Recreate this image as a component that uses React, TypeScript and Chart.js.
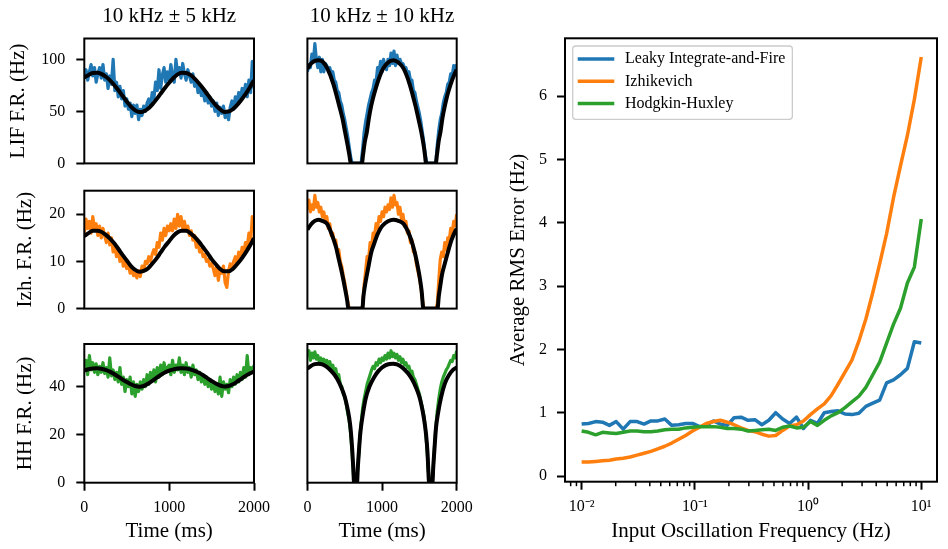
import React, { useEffect, useRef } from 'react';
import { Chart, registerables } from 'chart.js';

Chart.register(...registerables);

const FONT = '"Liberation Serif", "Times New Roman", serif';
Chart.defaults.font.family = FONT;
Chart.defaults.color = '#000';

// ---------------- data: time-course panels ----------------
const TIME_NOISY = [0,20,40,60,80,100,120,140,160,180,200,220,240,260,280,300,320,340,360,380,400,420,440,460,480,500,520,540,560,580,600,620,640,660,680,700,720,740,760,780,800,820,840,860,880,900,920,940,960,980,1000,1020,1040,1060,1080,1100,1120,1140,1160,1180,1200,1220,1240,1260,1280,1300,1320,1340,1360,1380,1400,1420,1440,1460,1480,1500,1520,1540,1560,1580,1600,1620,1640,1660,1680,1700,1720,1740,1760,1780,1800,1820,1840,1860,1880,1900,1920,1940,1960,1980,2000];
const TIME_FIT_A = [0,50,100,150,200,250,300,350,400,450,500,550,600,650,700,750,800,850,900,950,1000,1050,1100,1150,1200,1250,1300,1350,1400,1450,1500,1550,1600,1650,1700,1750,1800,1850,1900,1950,2000];

const LIF_NOISY_A = [82,90,80,88,95,84,92,78,86,92, 82,95,80,86,72,84,76,100,70,78, 64,74,62,70,55,62,52,58,45,56, 48,56,42,52,46,55,50,58,62,55, 68,62,78,70,90,72,85,92,78,88, 80,95,84,78,100,86,92,82,96,86, 80,90,84,78,86,74,80,68,76,65, 70,60,68,58,64,55,60,50,58,46, 54,48,55,44,50,42,54,60,52,64, 58,68,62,72,66,76,64,80,68,98, 72];
const LIF_FIT_A = [82.5,85,86.8,87,86,83.5,80,75.5,70.5,65, 59.5,54.5,51,49.3,50,52.5,56.5,61.5,67,72.5, 77.5,82,85.5,87,86.8,85,81.5,77,72,66.5, 61,56,52,49.5,49.8,52,56,61,66.5,73, 80];

const LIF_NOISY_B = [88,95,92,105,98,115,100,92,102,88, 100,88,96,94,90,92,86,88,80,78, 70,68,60,56,48,42,34,26,16,6, 0,0,0,0,0,0,0,14,30,40, 48,56,62,68,72,80,78,92,88,98, 88,100,94,90,100,94,106,96,108,94, 104,96,100,96,96,92,92,86,88,80, 80,70,68,60,54,48,40,30,20,8, 0,0,0,0,0,0,0,18,32,42, 48,58,64,68,76,78,86,84,94,90, 95];
const TIME_FIT_LIF_B = [0,50,100,150,200,268,347,426,470,505, 540,565,580,650,730,745,770,796,825,855, 895,934,975,1013,1080,1150,1220,1289,1368,1447, 1490,1526,1560,1575,1590,1650,1720,1735,1760,1782, 1810,1842,1880,1921,1960,2000];
const LIF_FIT_B = [91,96,98.5,99,98,91,76.5,55.5,43,30, 17,7,0,0,0,8,21,30,44,55.5, 67,76.5,85,91,97,99,97,91,76.5,55.5, 42,30,16,8,0,0,0,8,22,30, 44,55.5,67,76.5,84,90];

const IZH_NOISY_A = [16,19,17,18.5,16,19.5,17,18,15.5,17.5, 15,17,15.5,14,16,13.5,15,12,13.5,11, 12.5,10,11.5,9,10,8.5,9.5,7.5,8.5,7, 7.5,6.5,8,6.8,9,8,10,9.5,11,10, 11.5,12.5,11.5,14,13,16,14.5,17,15.5,17.5, 16.5,18,16.5,19,17,20,17.5,19.5,17,18.5, 16.5,17.5,15.5,16.5,14.5,15.5,13,14,12,12.5, 11,11.5,10,10.5,9,9.5,8.5,7,9,6, 8.5,7.5,9,5.5,4.5,8,9.5,8.5,10,11, 9.5,12,10.5,13,12,14,13,16,14,19.5, 16.5];
const IZH_FIT_A = [15.4,16.0,16.5,16.5,16.3,15.7,14.9,13.9,12.7,11.4, 10.2,9.0,8.2,7.8,8.0,8.5,9.5,10.6,11.9,13.2, 14.3,15.4,16.2,16.5,16.5,16.0,15.2,14.2,13.0,11.8, 10.5,9.4,8.4,7.9,7.9,8.4,9.4,10.5,11.8,13.3, 14.9];

const IZH_NOISY_B = [21,23,20.5,22,21,24,21.5,22.5,20.5,21.5, 19.5,20.5,18.5,19.5,17,18,15.5,16,14,14.5, 12,12.5,10,9,7,5.5,3.5,1.5,0,0, 0,0,0,0,0,0,0,0.5,5,8, 11,10.5,14,13,16,15.5,18,17,19.5,18.5, 20.5,19.5,21.5,20.5,22,21,23.5,21.5,24,22, 22.5,20,21.5,19,20,17.5,18.5,16,16.5,14, 14.5,12,12,9.5,8,6.5,4.5,2,0,0, 0,0,0,0,0,0,0,1,6,10.5, 12,11,14,12.5,15,14.5,17,16,18.5,17.5, 20];
const TIME_FIT_IZH_B = [0,50,100,145,200,264,320,382,420,461, 500,520,535,548,650,737,750,770,796,825, 855,895,934,975,1013,1080,1151,1220,1289,1330, 1368,1410,1447,1480,1506,1530,1554,1650,1743,1760, 1780,1802,1840,1881,1930,1980,2000];
const IZH_FIT_B = [16.75,17.9,18.6,18.86,18.6,17.96,16,13.1,10.5,7.7, 4.6,2.9,1.5,0,0,0,2.5,4.8,7.1,9.5, 11.9,13.8,15.55,16.9,17.7,18.5,18.86,18.6,17.96,16.9, 15.55,13.6,11.3,8.8,6.5,3.8,0,0,0,2.6, 4.8,7.1,9.5,11.9,14.5,16.4,16.9];

const HH_NOISY_A = [48,51,45,53,47,50,46,49.5,45,48.5, 46,50,45.5,48,44,52,44.5,47,43,46, 42,48,41,44,38,43,40,44,37,42, 36,41,38,42,39,43,40,45,41,46, 43,47,42,48,44,49,45,50,46,48, 49,45,51,46,49,47,52,46,49,45, 50,46,48,44,49,45,47,43,46,42, 45,41,44,40,43,39,42,38,41,37, 44,36,42,39,41,37.5,43,40,44,41, 45,42,46,43,48,44,53,45,48,46, 49];
const HH_FIT_A = [46.8,47.3,47.6,47.7,47.5,47.0,46.3,45.3,44.2,43.0, 42.0,41.0,40.3,40.0,40.3,41.2,42.4,43.7,44.9,45.9, 46.7,47.2,47.6,47.7,47.6,47.2,46.6,45.8,44.8,43.6, 42.4,41.3,40.5,40.1,40.3,41.0,42.1,43.3,44.5,45.5, 46.3];

const HH_NOISY_B = [53,55,51,54,52,54.5,51.5,53,50.5,52, 50,51.5,49,51,48.5,50.5,47.5,49,46,47.5, 44,45,41,40,37,36,33,29,26,20, 12,2,0,0,8,18,25,31,35,38, 41,43,45,47,48.5,47.5,50,49,51.5,50, 52,51,53,51.5,54,52,55,52.5,54,52, 53.5,51,52.5,50,51.5,49,50,48,48.5,46, 46.5,44,43,41,39,37,34,31,28,23, 15,5,0,0,3,14,23,30,35,39, 42,44,45.5,47,48,49.5,51,50.5,53,52, 55];
const TIME_FIT_HH_B = [0,50,100,150,200,250,300,350,400,450, 500,530,560,580,600,615,625,665,675,690, 710,740,780,830,900,950,1000,1050,1100,1150, 1200,1250,1300,1350,1400,1450,1500,1530,1560,1590, 1610,1620,1630,1675,1685,1700,1723,1750,1790,1842, 1900,1950,2000];
const HH_FIT_B = [47.5,48.7,49.4,49.6,49.3,48.5,47.2,45.5,43.2,40.0, 35.8,32,27,22,14,6,0,0,6,13, 21,28,35,40,44.3,46.5,48,49,49.5,49.6, 49.3,48.5,47.2,45.5,43.2,40,35.8,32,27,20, 12,5,0,0,6,13,23,29,35.5,41.4, 45,47,48];

const COLUMN_TITLES = ['10 kHz \u00b1 5 kHz', '10 kHz \u00b1 10 kHz'];
const ROW_LABELS = ['LIF F.R. (Hz)', 'Izh. F.R. (Hz)', 'HH F.R. (Hz)'];
const ROW_Y_MAX = [120, 25, 57.8];
const ROW_Y_TICKS = [[0, 50, 100], [0, 10, 20], [0, 20, 40]];
const TIME_TICKS = [0, 1000, 2000];
const TIME_LABEL = 'Time (ms)';

// ---------------- data: RMS error panel ----------------
const FREQ = [0.0100,0.0115,0.0133,0.0153,0.0176,0.0202,0.0233,0.0268,0.0309,0.0356, 0.0409,0.0471,0.0543,0.0625,0.0720,0.0829,0.0954,0.110,0.126,0.146, 0.168,0.193,0.222,0.256,0.295,0.339,0.391,0.450,0.518,0.596, 0.687,0.791,0.910,1.05,1.21,1.39,1.60,1.84,2.12,2.44, 2.81,3.24,3.73,4.29,4.94,5.69,6.55,7.54,8.69,10.0];
const RMS_LIF = [0.82,0.83,0.86,0.85,0.80,0.86,0.74,0.86,0.86,0.82, 0.87,0.87,0.90,0.80,0.81,0.83,0.83,0.78,0.80,0.87, 0.82,0.80,0.92,0.93,0.88,0.89,0.81,0.88,1.00,0.90, 0.83,0.93,0.75,0.88,0.83,1.00,1.02,1.03,0.98,0.97, 0.99,1.10,1.15,1.20,1.47,1.52,1.60,1.70,2.12,2.10];
const RMS_IZH = [0.22,0.22,0.23,0.24,0.25,0.27,0.28,0.30,0.33,0.36, 0.39,0.43,0.47,0.52,0.58,0.64,0.71,0.77,0.83,0.86, 0.88,0.85,0.81,0.76,0.72,0.70,0.66,0.63,0.64,0.72, 0.79,0.81,0.87,0.97,1.06,1.14,1.27,1.45,1.64,1.83, 2.13,2.48,2.90,3.35,3.83,4.40,4.90,5.38,5.95,6.62];
const RMS_HH = [0.71,0.69,0.65,0.69,0.68,0.67,0.69,0.71,0.71,0.70, 0.70,0.71,0.73,0.74,0.74,0.76,0.77,0.78,0.78,0.78, 0.77,0.75,0.75,0.74,0.71,0.72,0.73,0.74,0.72,0.77, 0.79,0.76,0.77,0.86,0.80,0.88,0.95,1.00,1.08,1.17, 1.26,1.40,1.60,1.80,2.10,2.40,2.65,3.05,3.30,4.06];
const MODEL_NAMES = ['Leaky Integrate-and-Fire', 'Izhikevich', 'Hodgkin-Huxley'];
const RMS_X_TICKS = [0.01, 0.1, 1, 10];
const RMS_X_TICK_LABELS = ['10\u207b\u00b2', '10\u207b\u00b9', '10\u2070', '10\u00b9'];
const RMS_X_MINOR = [0.008,0.009,0.02,0.03,0.04,0.05,0.06,0.07,0.08,0.09,0.2,0.3,0.4,0.5,0.6,0.7,0.8,0.9,2,3,4,5,6,7,8,9];
const RMS_Y_TICKS = [0, 1, 2, 3, 4, 5, 6];
const RMS_X_LABEL = 'Input Oscillation Frequency (Hz)';
const RMS_Y_LABEL = 'Average RMS Error (Hz)';

const COLORS = ['#1f77b4', '#ff7f0e', '#2ca02c'];

const PANELS = [
  [
    { noisy: LIF_NOISY_A, fitT: TIME_FIT_A, fit: LIF_FIT_A },
    { noisy: LIF_NOISY_B, fitT: TIME_FIT_LIF_B, fit: LIF_FIT_B },
  ],
  [
    { noisy: IZH_NOISY_A, fitT: TIME_FIT_A, fit: IZH_FIT_A },
    { noisy: IZH_NOISY_B, fitT: TIME_FIT_IZH_B, fit: IZH_FIT_B },
  ],
  [
    { noisy: HH_NOISY_A, fitT: TIME_FIT_A, fit: HH_FIT_A },
    { noisy: HH_NOISY_B, fitT: TIME_FIT_HH_B, fit: HH_FIT_B },
  ],
];

// ---------------- layout (page pixels) ----------------
const COL_CANVAS = [{ left: 0, width: 275 }, { left: 268, width: 207 }];
const COL_AREA = [[84.3, 254], [287.7, 456.7]];
const ROW_CANVAS = [{ top: 0, height: 190 }, { top: 170, height: 180 }, { top: 324, height: 225 }];
const ROW_AREA = [[38.5, 176.7], [190.7, 329.3], [344, 482.7]];
const ROW_TITLE_PAD = [6, 13, 13];
const RMS_CANVAS = { left: 480, top: 0, width: 468, height: 549 };
const RMS_AREA = { left: 565, right: 937, top: 38.3, bottom: 481.7 };

const pts = (xs: number[], ys: number[]) => xs.map((x, i) => ({ x, y: ys[i] }));
const fixTicks = (values: number[]) => (scale: any) => {
  scale.ticks = values.map((v) => ({ value: v }));
};

const tickGrid = {
  display: true,
  drawOnChartArea: false,
  drawTicks: true,
  tickLength: 8,
  tickWidth: 2,
  tickColor: '#000',
  color: '#000',
};

const framePlugin = {
  id: 'axesFrame',
  afterDatasetsDraw(chart: any) {
    const { ctx, chartArea: a } = chart;
    ctx.save();
    ctx.strokeStyle = '#000';
    ctx.lineWidth = 2;
    ctx.strokeRect(a.left, a.top, a.right - a.left, a.bottom - a.top);
    ctx.restore();
  },
};

const minorTickPlugin = {
  id: 'minorTicks',
  afterDraw(chart: any) {
    const sx = chart.scales.x;
    const { ctx, chartArea: a } = chart;
    ctx.save();
    ctx.strokeStyle = '#000';
    ctx.lineWidth = 1.5;
    RMS_X_MINOR.forEach((v) => {
      const x = sx.getPixelForValue(v);
      ctx.beginPath();
      ctx.moveTo(x, a.bottom);
      ctx.lineTo(x, a.bottom + 4.5);
      ctx.stroke();
    });
    ctx.restore();
  },
};

const boxLegendPlugin = {
  id: 'boxLegend',
  afterDatasetsDraw(chart: any) {
    const { ctx, chartArea: a } = chart;
    ctx.save();
    ctx.font = `16px ${FONT}`;
    const ds = chart.data.datasets;
    const textW = Math.max(...ds.map((d: any) => ctx.measureText(d.label).width));
    const x0 = a.left + 7.7;
    const y0 = a.top + 7.7;
    const w = 5 + 36.6 + 10.7 + textW + 7;
    const h = 73.3;
    ctx.beginPath();
    ctx.roundRect(x0, y0, w, h, 3);
    ctx.fillStyle = 'rgba(255,255,255,0.8)';
    ctx.fill();
    ctx.strokeStyle = '#cccccc';
    ctx.lineWidth = 1.3;
    ctx.stroke();
    ds.forEach((d: any, k: number) => {
      const y = y0 + 13 + k * 22.3;
      ctx.strokeStyle = d.borderColor;
      ctx.lineWidth = 3.5;
      ctx.beginPath();
      ctx.moveTo(x0 + 5, y);
      ctx.lineTo(x0 + 41.6, y);
      ctx.stroke();
      ctx.fillStyle = '#000';
      ctx.textBaseline = 'middle';
      ctx.textAlign = 'left';
      ctx.fillText(d.label, x0 + 52.3, y);
    });
    ctx.restore();
  },
};

function SmallPanel({ row, col }: { row: number; col: number }) {
  const ref = useRef<HTMLCanvasElement>(null);
  const cc = COL_CANVAS[col];
  const rc = ROW_CANVAS[row];
  useEffect(() => {
    const cv = ref.current;
    if (!cv) return;
    const series = PANELS[row][col];
    const isLeft = col === 0;
    const isTop = row === 0;
    const isBottom = row === 2;
    const area = { left: COL_AREA[col][0], right: COL_AREA[col][1], top: ROW_AREA[row][0], bottom: ROW_AREA[row][1] };
    const padding = {
      left: isLeft ? 0 : area.left - cc.left,
      right: cc.left + cc.width - area.right,
      top: isTop ? 0 : area.top - rc.top,
      bottom: isBottom ? 0 : rc.top + rc.height - area.bottom,
    };
    const chart = new Chart(cv, {
      type: 'line',
      data: {
        datasets: [
          {
            data: pts(TIME_NOISY, series.noisy),
            borderColor: COLORS[row],
            borderWidth: 3.2,
            pointRadius: 0,
            tension: 0,
            borderJoinStyle: 'round',
            order: 2,
          },
          {
            data: pts(series.fitT, series.fit),
            borderColor: '#000',
            borderWidth: 4,
            pointRadius: 0,
            cubicInterpolationMode: 'monotone',
            order: 1,
          },
        ],
      },
      options: {
        responsive: false,
        animation: false,
        events: [],
        layout: { padding },
        plugins: {
          legend: { display: false },
          tooltip: { enabled: false },
          title: {
            display: isTop,
            text: COLUMN_TITLES[col],
            fullSize: false,
            color: '#000',
            font: { family: FONT, size: 21, weight: 'normal', lineHeight: 1.2 },
            padding: { top: 3.5, bottom: 9.8 },
          },
        },
        scales: {
          x: {
            type: 'linear',
            min: 0,
            max: 2000,
            display: isBottom,
            afterBuildTicks: fixTicks(TIME_TICKS),
            afterFit: (s: any) => {
              s.height = rc.top + rc.height - area.bottom;
              s.paddingLeft = 0;
              s.paddingRight = 0;
            },
            ticks: {
              callback: (v: any) => String(v),
              font: { family: FONT, size: 16 },
              color: '#000',
              padding: 7,
              maxRotation: 0,
              autoSkip: false,
            },
            grid: tickGrid,
            border: { display: false },
            title: {
              display: true,
              text: TIME_LABEL,
              color: '#000',
              font: { family: FONT, size: 21, lineHeight: 1.2 },
              padding: { top: 0, bottom: 4.6 },
            },
          },
          y: {
            type: 'linear',
            min: 0,
            max: ROW_Y_MAX[row],
            display: isLeft,
            afterBuildTicks: fixTicks(ROW_Y_TICKS[row]),
            afterFit: (s: any) => {
              s.width = area.left - cc.left;
              s.paddingTop = 0;
              s.paddingBottom = 0;
            },
            ticks: {
              callback: (v: any) => String(v),
              font: { family: FONT, size: 16 },
              color: '#000',
              padding: 11,
              autoSkip: false,
            },
            grid: tickGrid,
            border: { display: false },
            title: {
              display: true,
              text: ROW_LABELS[row],
              color: '#000',
              font: { family: FONT, size: 21, lineHeight: 1.2 },
              padding: { top: ROW_TITLE_PAD[row], bottom: 0 },
            },
          },
        },
      } as any,
      plugins: [framePlugin],
    });
    return () => chart.destroy();
  }, [row, col]);
  return (
    <canvas
      ref={ref}
      width={cc.width}
      height={rc.height}
      style={{ position: 'absolute', left: cc.left, top: rc.top, width: cc.width, height: rc.height }}
    />
  );
}

function RmsPanel() {
  const ref = useRef<HTMLCanvasElement>(null);
  useEffect(() => {
    const cv = ref.current;
    if (!cv) return;
    const series = [RMS_LIF, RMS_IZH, RMS_HH];
    const chart = new Chart(cv, {
      type: 'line',
      data: {
        datasets: MODEL_NAMES.map((name, k) => ({
          label: name,
          data: pts(FREQ, series[k]),
          borderColor: COLORS[k],
          borderWidth: 3.5,
          pointRadius: 0,
          tension: 0,
          borderJoinStyle: 'round',
          order: MODEL_NAMES.length - k,
        })),
      },
      options: {
        responsive: false,
        animation: false,
        events: [],
        layout: {
          padding: {
            left: 0,
            right: RMS_CANVAS.left + RMS_CANVAS.width - RMS_AREA.right,
            top: RMS_AREA.top - RMS_CANVAS.top,
            bottom: 0,
          },
        },
        plugins: { legend: { display: false }, tooltip: { enabled: false } },
        scales: {
          x: {
            type: 'logarithmic',
            min: 0.00713,
            max: 13.77,
            afterBuildTicks: fixTicks(RMS_X_TICKS),
            afterFit: (s: any) => {
              s.height = RMS_CANVAS.top + RMS_CANVAS.height - RMS_AREA.bottom;
              s.paddingLeft = 0;
              s.paddingRight = 0;
            },
            ticks: {
              callback: (_v: any, i: number) => RMS_X_TICK_LABELS[i],
              font: { family: FONT, size: 16 },
              color: '#000',
              padding: 7,
              maxRotation: 0,
              autoSkip: false,
            },
            grid: tickGrid,
            border: { display: false },
            title: {
              display: true,
              text: RMS_X_LABEL,
              color: '#000',
              font: { family: FONT, size: 21, lineHeight: 1.2 },
              padding: { top: 0, bottom: 4.6 },
            },
          },
          y: {
            type: 'linear',
            min: -0.09,
            max: 6.915,
            afterBuildTicks: fixTicks(RMS_Y_TICKS),
            afterFit: (s: any) => {
              s.width = RMS_AREA.left - RMS_CANVAS.left;
              s.paddingTop = 0;
              s.paddingBottom = 0;
            },
            ticks: {
              callback: (v: any) => String(v),
              font: { family: FONT, size: 16 },
              color: '#000',
              padding: 10,
              autoSkip: false,
            },
            grid: tickGrid,
            border: { display: false },
            title: {
              display: true,
              text: RMS_Y_LABEL,
              color: '#000',
              font: { family: FONT, size: 21, lineHeight: 1.2 },
              padding: { top: 26, bottom: 0 },
            },
          },
        },
      } as any,
      plugins: [framePlugin, minorTickPlugin, boxLegendPlugin],
    });
    return () => chart.destroy();
  }, []);
  return (
    <canvas
      ref={ref}
      width={RMS_CANVAS.width}
      height={RMS_CANVAS.height}
      style={{ position: 'absolute', left: RMS_CANVAS.left, top: RMS_CANVAS.top, width: RMS_CANVAS.width, height: RMS_CANVAS.height }}
    />
  );
}

export default function App() {
  const cells: { row: number; col: number }[] = [];
  for (let r = 0; r < 3; r++) for (let c = 0; c < 2; c++) cells.push({ row: r, col: c });
  return (
    <div style={{ position: 'absolute', left: 0, top: 0, width: 948, height: 549, background: '#fff', overflow: 'hidden' }}>
      {cells.map(({ row, col }) => (
        <SmallPanel key={`${row}-${col}`} row={row} col={col} />
      ))}
      <RmsPanel />
    </div>
  );
}
